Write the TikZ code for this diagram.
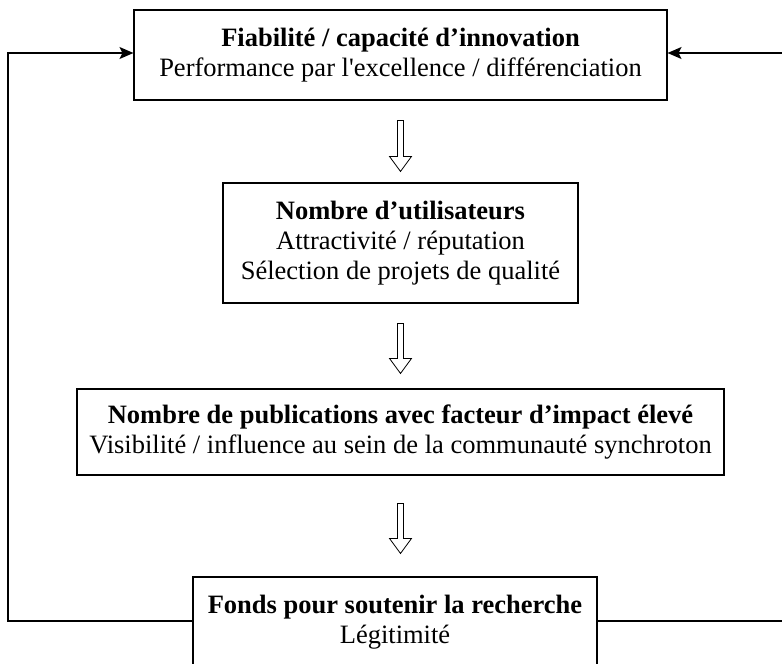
\documentclass[tikz,border=0pt]{standalone}
\usepackage{fontspec}
\setmainfont{Liberation Serif}[Ligatures=TeXOff]
\usetikzlibrary{arrows.meta,calc}
\tikzset{
  box/.style={draw, line width=1.1pt, align=center, inner sep=0pt,
    font=\fontsize{26.5}{30}\selectfont},
  loopline/.style={line width=1.5pt, -{Stealth[length=14pt,width=12pt,inset=3pt]}},
  hollowarrow/.style={draw, line width=0.8pt, fill=white},
}
\newcommand\hollowdown[4]{% from node, to node, top offset, tip offset
  \draw[hollowarrow] ($(#1.south)+(-3,#3)$) -- ($(#1.south)+(3,#3)$)
    -- ($(#1.south |- #2.north)+(3,-#4-15)$) -- ($(#1.south |- #2.north)+(11,-#4-15)$)
    -- ($(#1.south |- #2.north)+(0,-#4)$) -- ($(#1.south |- #2.north)+(-11,-#4-15)$)
    -- ($(#1.south |- #2.north)+(-3,-#4-15)$) -- cycle;}
\begin{document}
\begin{tikzpicture}[x=1pt,y=-1pt]
\useasboundingbox (0,0) rectangle (782,664);
\node[box, minimum width=533pt, minimum height=90pt] (b1) at (400.5,55)
  {\textbf{Fiabilité / capacité d’innovation}\\Performance par l'excellence / différenciation};
\node[box, minimum width=355pt, minimum height=120pt] (b2) at (400.5,243)
  {\textbf{Nombre d’utilisateurs}\\Attractivité / réputation\\Sélection de projets de qualité};
\node[box, minimum width=647pt, minimum height=86pt] (b3) at (400.5,432)
  {\textbf{Nombre de publications avec facteur d’impact élevé}\\Visibilité / influence au sein de la communauté synchroton};
\node[box, minimum width=404pt, minimum height=90pt] (b4) at (395,622)
  {\textbf{Fonds pour soutenir la recherche}\\Légitimité};
\hollowdown{b1}{b2}{20}{11}
\hollowdown{b2}{b3}{20}{15}
\hollowdown{b3}{b4}{28}{23}
\coordinate (lb) at (8,621);
\coordinate (lt) at (8,53);
\coordinate (rb) at (785,621);
\coordinate (rt) at (785,53);
\draw[loopline] (b4.west |- lb) -- (lb) -- (lt) -- (b1.west |- lt);
\draw[loopline] (b4.east |- rb) -- (rb) -- (rt) -- (b1.east |- rt);
\end{tikzpicture}
\end{document}
